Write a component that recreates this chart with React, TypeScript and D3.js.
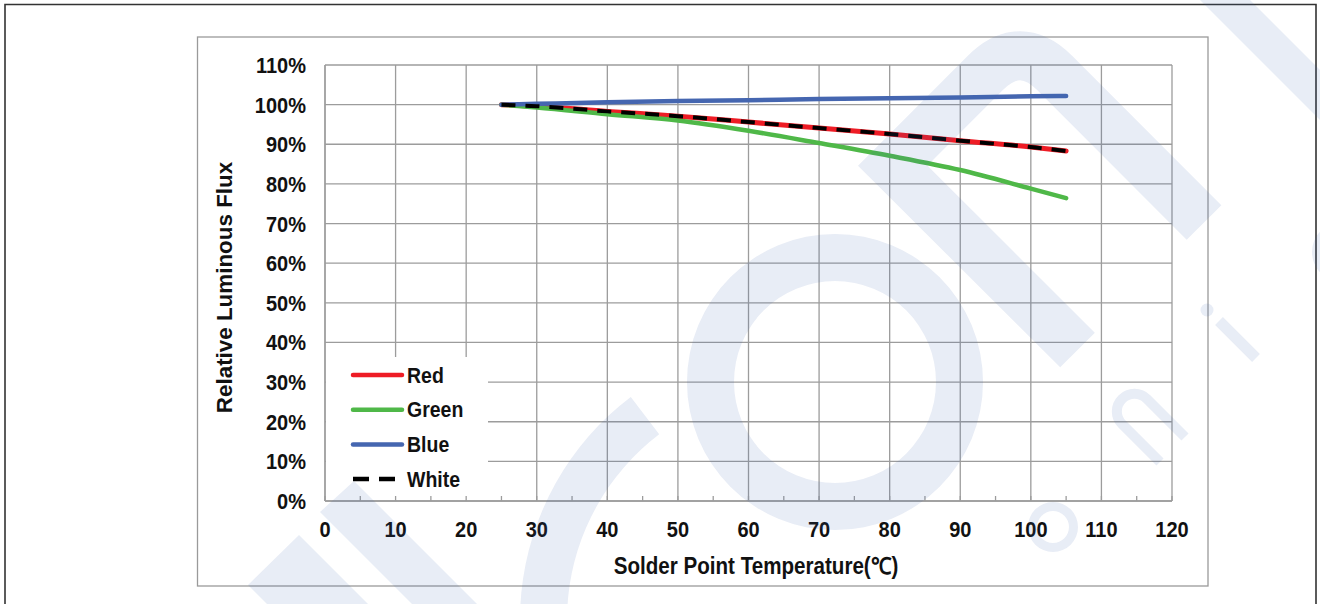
import React from "react";
import * as d3 from "d3";

const temps = [25, 30, 40, 50, 60, 70, 80, 90, 100, 105];
const redVals = [100, 99.6, 98.3, 97.1, 95.6, 94.1, 92.6, 90.9, 89.3, 88.3];
const greenVals = [100, 99.3, 97.6, 96.0, 93.4, 90.3, 87.1, 83.5, 78.8, 76.4];
const blueVals = [100, 100.2, 100.6, 100.9, 101.1, 101.4, 101.6, 101.8, 102.1, 102.2];
const whiteVals = [100, 99.6, 98.3, 97.1, 95.6, 94.1, 92.6, 90.9, 89.3, 88.3];

const xTicks = [0, 10, 20, 30, 40, 50, 60, 70, 80, 90, 100, 110, 120];
const xMinorTicks = [5, 15, 25, 35, 45, 55, 65, 75, 85, 95, 105, 115];
const yTicks = [0, 10, 20, 30, 40, 50, 60, 70, 80, 90, 100, 110];
const legendNames = ["Red", "Green", "Blue", "White"];

const xTitle = "Solder Point Temperature(℃)";
const yTitle = "Relative Luminous Flux";

const FONT = "'Liberation Sans', Arial, Helvetica, sans-serif";
const SY = 1.12;

export default function App() {
  const x = d3.scaleLinear().domain([0, 120]).range([325, 1172]);
  const y = d3.scaleLinear().domain([0, 110]).range([501, 65]);

  const mk = (vals: number[]) =>
    d3
      .line<number>()
      .x((_, i) => x(temps[i]))
      .y((v) => y(v))
      .curve(d3.curveMonotoneX)(vals) as string;

  const series = [
    { name: "Red", vals: redVals, color: "#ee1c25", width: 5, dash: undefined as string | undefined },
    { name: "Green", vals: greenVals, color: "#4fb848", width: 4.5, dash: undefined },
    { name: "Blue", vals: blueVals, color: "#4566b0", width: 4.5, dash: undefined },
    { name: "White", vals: whiteVals, color: "#000000", width: 4, dash: "14 10" },
  ];

  const [x0, x1] = x.range();
  const [yb, yt] = y.range();

  // watermark geometry (arc paths)
  const bigC = d3.arc()({ innerRadius: 233, outerRadius: 280, startAngle: -2.3, endAngle: -0.649 } as any) as string;
  const ringO = d3.arc()({ innerRadius: 101, outerRadius: 148, startAngle: 0, endAngle: Math.PI * 2 } as any) as string;
  const smallO = d3.arc()({ innerRadius: 16, outerRadius: 25, startAngle: 0, endAngle: Math.PI * 2 } as any) as string;
  const smallC = d3.arc()({ innerRadius: 20, outerRadius: 30, startAngle: 0, endAngle: Math.PI * 2 } as any) as string;

  return (
    <svg
      width={1320}
      height={604}
      style={{ position: "absolute", left: 0, top: 0, background: "#fff" }}
      fontFamily={FONT}
    >
      <rect x={0} y={0} width={1320} height={604} fill="#fff" />
      {/* outer page border */}
      <path d="M5,604 L5,4.5 L1316,4.5 L1316,604" fill="none" stroke="#333" strokeWidth={1.6} />
      {/* chart frame */}
      <rect x={197.5} y={37} width={1010.5} height={549} fill="#fff" stroke="#9a9a9a" strokeWidth={1.3} />

      {/* grid */}
      <g stroke="#9c9c9c" strokeWidth={1.3}>
        {yTicks.map((t) => (
          <line key={"h" + t} x1={x0} x2={x1} y1={y(t)} y2={y(t)} />
        ))}
        {xTicks.map((t) => (
          <line key={"v" + t} x1={x(t)} x2={x(t)} y1={yb} y2={yt} />
        ))}
      </g>

      {/* legend background */}
      <rect x={326} y={357} width={162} height={143} fill="#fff" />
      <g stroke="#9c9c9c" strokeWidth={1.3}>
        <line x1={x0} x2={x0} y1={yb} y2={yt} />
        <line x1={x0} x2={x1} y1={yb} y2={yb} />
        {xMinorTicks.concat(xTicks).map((t) => (
          <line key={"t" + t} x1={x(t)} x2={x(t)} y1={yb} y2={yb - 5} />
        ))}
      </g>

      {/* series */}
      {series.map((s) => (
        <path
          key={s.name}
          d={mk(s.vals)}
          fill="none"
          stroke={s.color}
          strokeWidth={s.width}
          strokeDasharray={s.dash}
          strokeLinecap={s.dash ? "butt" : "round"}
          strokeLinejoin="round"
        />
      ))}

      {/* legend */}
      {series.map((s, i) => {
        const ly = 375 + i * 34.7;
        return (
          <g key={"lg" + s.name}>
            <line
              x1={353}
              x2={s.dash ? 395 : 402}
              y1={ly}
              y2={ly}
              stroke={s.color}
              strokeWidth={4.5}
              strokeDasharray={s.dash ? "16 10" : undefined}
              strokeLinecap={s.dash ? "butt" : "round"}
            />
            <text
              transform={`translate(407,${ly + 7.5}) scale(1,${SY})`}
              fontSize={19.5}
              fontWeight="bold"
              fill="#111"
            >
              {legendNames[i]}
            </text>
          </g>
        );
      })}

      {/* y tick labels */}
      {yTicks.map((t) => (
        <text
          key={"yl" + t}
          transform={`translate(306,${y(t) + 8}) scale(1,${SY})`}
          textAnchor="end"
          fontSize={20}
          fontWeight="bold"
          fill="#111"
        >
          {t + "%"}
        </text>
      ))}

      {/* x tick labels */}
      {xTicks.map((t) => (
        <text
          key={"xl" + t}
          transform={`translate(${x(t)},537) scale(1,${SY})`}
          textAnchor="middle"
          fontSize={20}
          fontWeight="bold"
          fill="#111"
        >
          {t}
        </text>
      ))}

      {/* axis titles */}
      <text
        transform={`translate(756,574) scale(1,${SY})`}
        textAnchor="middle"
        fontSize={20.6}
        fontWeight="bold"
        fill="#111"
      >
        {xTitle}
      </text>
      <text
        transform={`translate(232,287.5) rotate(-90)`}
        textAnchor="middle"
        fontSize={22.4}
        fontWeight="bold"
        fill="#111"
      >
        {yTitle}
      </text>

      {/* watermark */}
      <g opacity={0.12} fill="#3e64af" stroke="none" style={{ pointerEvents: "none" }}>
        <path d={bigC} transform="translate(800,620)" />
        <path d={ringO} transform="translate(835,382)" />
        <polygon points="248,585 299,535 420,656 369,706" />
        <polygon points="320,512 354,481 480,607 446,638" />
        <path
          d="M1077.5,350 L892.7,165.7 L985,73.3 Q1020,38.3 1055,73.3 L1204,222.5"
          fill="none"
          stroke="#3e64af"
          strokeWidth={49}
          strokeLinejoin="miter"
        />
        <polygon points="1200,0 1250,0 1330,80 1330,130" />
        <path d={smallO} transform="translate(1053,527)" />
        <path d={smallC} transform="translate(1342,252)" />
        <circle cx={1207} cy={310} r={6.5} />
        <line x1={1219} y1={321} x2={1256} y2={358} stroke="#3e64af" strokeWidth={11} />
        <path
          d="M1160,462 L1122,424 A17.5,17.5 0 0 1 1147,399 L1185,437"
          fill="none"
          stroke="#3e64af"
          strokeWidth={10}
        />
      </g>
    </svg>
  );
}
